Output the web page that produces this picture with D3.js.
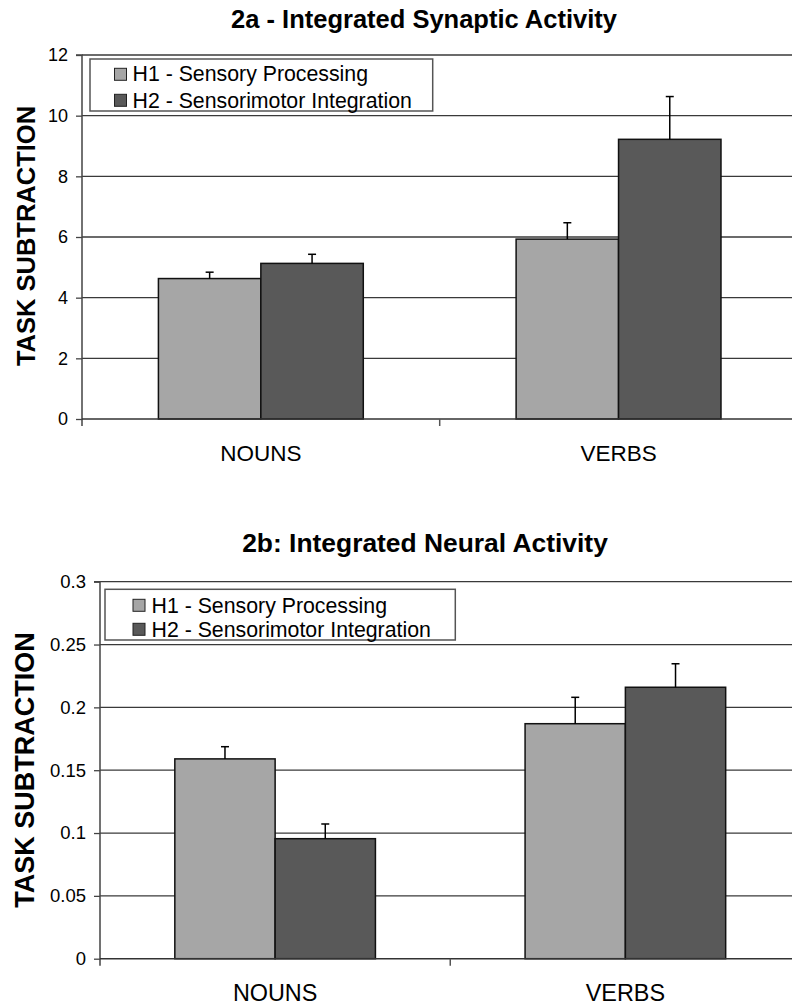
<!DOCTYPE html>
<html>
<head>
<meta charset="utf-8">
<script src="https://cdnjs.cloudflare.com/ajax/libs/d3/7.8.5/d3.min.js"></script>
<style>
  html, body { margin: 0; padding: 0; background: #fff; }
  svg { display: block; font-family: "Liberation Sans", Arial, sans-serif; }
</style>
</head>
<body>
<svg id="chart" width="792" height="1006"></svg>
<script>
// ---- data ----
const categories = ["NOUNS", "VERBS"];
const seriesNames = ["H1 - Sensory Processing", "H2 - Sensorimotor Integration"];

const titleA = "2a - Integrated Synaptic Activity";
const h1A = [4.63, 5.93];
const h2A = [5.13, 9.22];
const h1ErrA = [0.21, 0.54];
const h2ErrA = [0.30, 1.41];
const ticksA = [0, 2, 4, 6, 8, 10, 12];

const titleB = "2b: Integrated Neural Activity";
const h1B = [0.159, 0.187];
const h2B = [0.0955, 0.216];
const h1ErrB = [0.0097, 0.021];
const h2ErrB = [0.0117, 0.0187];
const ticksB = [0, 0.05, 0.1, 0.15, 0.2, 0.25, 0.3];

const yLabel = "TASK SUBTRACTION";
const colors = ["#a6a6a6", "#595959"];

const svg = d3.select("#chart");

function drawChart(cfg) {
  const g = svg.append("g");
  const x = d3.scaleBand().domain(categories).range([cfg.x0, cfg.x1]).paddingInner(0).paddingOuter(0);
  const xs = d3.scaleBand().domain([0, 1]).range([0, x.bandwidth()]).paddingInner(0).paddingOuter(0.746);
  const y = d3.scaleLinear().domain([0, cfg.ticks[cfg.ticks.length - 1]]).range([cfg.yBottom, cfg.yTop]);

  // gridlines
  g.append("g").selectAll("line").data(cfg.ticks.filter(t => t > 0)).join("line")
    .attr("x1", cfg.x0).attr("x2", cfg.x1)
    .attr("y1", d => y(d)).attr("y2", d => y(d))
    .attr("stroke", "#3a3a3a").attr("stroke-width", 1.3);

  // y axis
  const yAxis = d3.axisLeft(y).tickValues(cfg.ticks).tickSize(6).tickPadding(8)
    .tickFormat(d => String(+d.toFixed(3)));
  const ya = g.append("g").attr("transform", `translate(${cfg.x0},0)`).call(yAxis);
  ya.select(".domain").attr("stroke", "#444").attr("stroke-width", 1.5).attr("d", `M-6,${cfg.yTop}H0V${cfg.yBottom + 7}`);
  ya.selectAll(".tick line").attr("stroke", "#444").attr("stroke-width", 1.3);
  ya.selectAll(".tick text").attr("font-size", cfg.tickFont).attr("fill", "#000")
    .attr("font-family", "Liberation Sans, Arial, sans-serif");

  // bars
  const series = [
    { vals: cfg.h1, errs: cfg.e1, idx: 0 },
    { vals: cfg.h2, errs: cfg.e2, idx: 1 }
  ];
  series.forEach(s => {
    g.append("g").selectAll("rect").data(categories).join("rect")
      .attr("x", (c) => x(c) + xs(s.idx))
      .attr("width", xs.bandwidth())
      .attr("y", (c, i) => y(s.vals[i]))
      .attr("height", (c, i) => y(0) - y(s.vals[i]))
      .attr("fill", colors[s.idx]).attr("stroke", "#111").attr("stroke-width", 1.5);
  });
  // error bars
  series.forEach(s => {
    const eg = g.append("g").attr("stroke", "#000").attr("stroke-width", 1.5);
    categories.forEach((c, i) => {
      const cx = x(c) + xs(s.idx) + xs.bandwidth() / 2;
      eg.append("line").attr("x1", cx).attr("x2", cx)
        .attr("y1", y(s.vals[i])).attr("y2", y(s.vals[i] + s.errs[i]));
      eg.append("line").attr("x1", cx - 4).attr("x2", cx + 4)
        .attr("y1", y(s.vals[i] + s.errs[i])).attr("y2", y(s.vals[i] + s.errs[i]));
    });
  });

  // x axis
  const xAxis = d3.axisBottom(x).tickSize(0).tickPadding(cfg.catPad);
  const xa = g.append("g").attr("transform", `translate(0,${cfg.yBottom})`).call(xAxis);
  xa.select(".domain").attr("stroke", "#333").attr("stroke-width", 1.5).attr("d", `M${cfg.x0},0H${cfg.x1}`);
  xa.selectAll(".tick text").attr("font-size", cfg.catFont).attr("fill", "#000")
    .attr("font-family", "Liberation Sans, Arial, sans-serif");
  // category boundary ticks
  const bounds = [x(categories[1])];
  xa.append("g").selectAll("line").data(bounds).join("line")
    .attr("x1", d => d).attr("x2", d => d).attr("y1", 0).attr("y2", 7)
    .attr("stroke", "#555").attr("stroke-width", 1.5);

  // title
  g.append("text").attr("x", cfg.titleX).attr("y", cfg.titleY)
    .attr("text-anchor", "middle").attr("font-weight", "bold")
    .attr("font-size", cfg.titleFont).text(cfg.title);

  // y label
  g.append("text").attr("transform", `translate(${cfg.ylabX},${cfg.ylabY}) rotate(-90)`)
    .attr("text-anchor", "middle").attr("font-weight", "bold")
    .attr("font-size", cfg.ylabFont).text(yLabel);

  // legend
  const lg = g.append("g");
  lg.append("rect").attr("x", cfg.leg.x).attr("y", cfg.leg.y)
    .attr("width", cfg.leg.w).attr("height", cfg.leg.h)
    .attr("fill", "#fff").attr("stroke", "#555").attr("stroke-width", 1.5);
  seriesNames.forEach((n, i) => {
    lg.append("rect").attr("x", cfg.leg.sx).attr("y", cfg.leg.sy[i])
      .attr("width", 12).attr("height", 12)
      .attr("fill", colors[i]).attr("stroke", "#222").attr("stroke-width", 1);
    lg.append("text").attr("x", cfg.leg.tx).attr("y", cfg.leg.ty[i])
      .attr("font-size", cfg.leg.font).text(n);
  });
}

drawChart({
  title: titleA, h1: h1A, h2: h2A, e1: h1ErrA, e2: h2ErrA, ticks: ticksA,
  x0: 82, x1: 797.4, yTop: 55, yBottom: 419,
  tickFont: 18, catFont: 22.5, catPad: 26,
  titleX: 424, titleY: 28, titleFont: 25.5,
  ylabX: 35, ylabY: 236, ylabFont: 25.5,
  leg: { x: 90, y: 59, w: 342.7, h: 52, sx: 114.5, sy: [68.3, 94.3], tx: 132.5, ty: [81, 107.5], font: 21.3 }
});

drawChart({
  title: titleB, h1: h1B, h2: h2B, e1: h1ErrB, e2: h2ErrB, ticks: ticksB,
  x0: 100, x1: 800.5, yTop: 581.7, yBottom: 958.7,
  tickFont: 18.5, catFont: 23.4, catPad: 26,
  titleX: 425, titleY: 552, titleFont: 26.4,
  ylabX: 34, ylabY: 770, ylabFont: 27,
  leg: { x: 105, y: 589.3, w: 350.3, h: 50.7, sx: 133, sy: [599.3, 623.3], tx: 151.5, ty: [613.3, 637.3], font: 21.3 }
});
</script>
</body>
</html>
